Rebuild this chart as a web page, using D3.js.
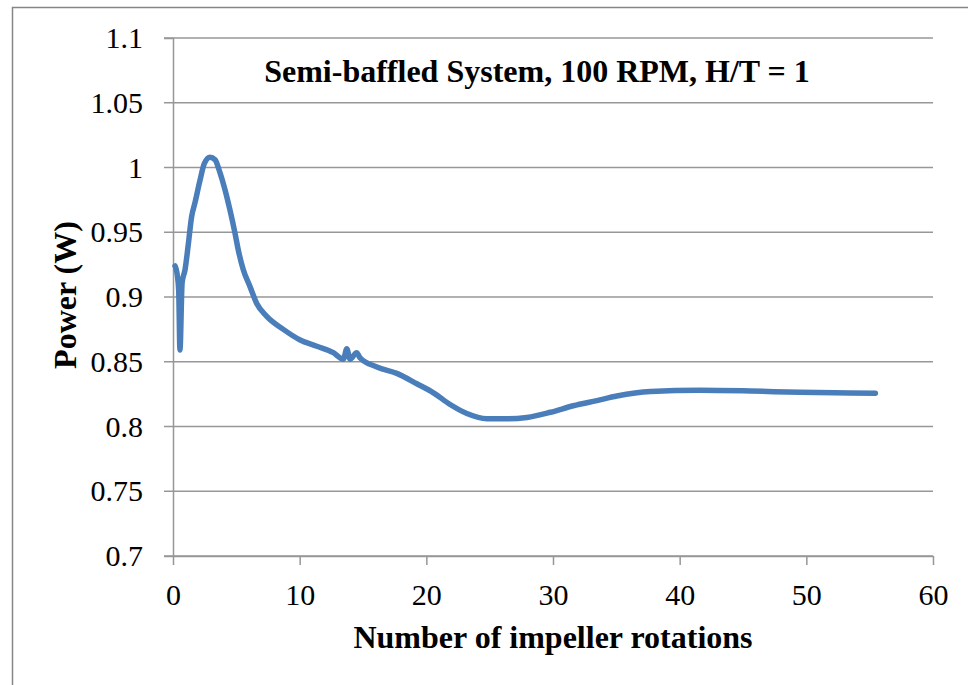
<!DOCTYPE html>
<html>
<head>
<meta charset="utf-8">
<script src="https://cdn.jsdelivr.net/npm/d3@7"></script>
<style>
  body { margin: 0; background: #fff; }
</style>
</head>
<body>
<div id="chart"></div>
<script>
// Power trace
const rotations = [0.16, 0.35, 0.45, 0.55, 0.72, 0.95, 1.2, 1.47, 1.74, 2.13, 2.47, 2.92, 3.32, 3.71, 4.1, 4.5,
  4.9, 5.16, 5.55, 6.08, 6.61, 7.4, 8.71, 10.0, 11.35, 12.66, 13.45, 13.72, 13.98, 14.5, 14.77, 16.1,
  17.67, 19.25, 20.56, 21.88, 23.2, 24.78, 26.36, 27.94, 29.8, 31.6, 33.47, 35.04, 37.7, 41.6, 45.6,
  49.5, 52.2, 55.45];
const power = [0.924, 0.916, 0.905, 0.859, 0.911, 0.921, 0.94, 0.962, 0.973, 0.99, 1.003, 1.008, 1.006, 0.996, 0.983, 0.967,
  0.949, 0.936, 0.921, 0.908, 0.895, 0.885, 0.875, 0.867, 0.862, 0.857, 0.852, 0.860, 0.852, 0.857, 0.853, 0.846,
  0.841, 0.833, 0.826, 0.817, 0.810, 0.806, 0.806, 0.807, 0.811, 0.816, 0.820, 0.8235, 0.827, 0.828, 0.8274,
  0.8264, 0.826, 0.8257];
const xTicks = [0, 10, 20, 30, 40, 50, 60];
const yTicks = [0.7, 0.75, 0.8, 0.85, 0.9, 0.95, 1, 1.05, 1.1];

const width = 968, height = 685;
const margin = {top: 38, right: 35, bottom: 129, left: 173};
const serif = "'Liberation Serif', 'Times New Roman', serif";

const svg = d3.select("#chart").append("svg")
  .attr("width", width)
  .attr("height", height);

// outer chart border
svg.append("rect")
  .attr("x", 12.5).attr("y", 7.5)
  .attr("width", 980).attr("height", 700)
  .attr("fill", "none")
  .attr("stroke", "#868686")
  .attr("stroke-width", 1.5);

const x = d3.scaleLinear().domain([0, 60]).range([margin.left, width - margin.right]);
const y = d3.scaleLinear().domain([0.7, 1.1]).range([height - margin.bottom, margin.top]);

// horizontal gridlines
svg.append("g")
  .selectAll("line")
  .data(yTicks)
  .join("line")
  .attr("x1", x(0) - 9).attr("x2", x(60))
  .attr("y1", d => y(d)).attr("y2", d => y(d))
  .attr("stroke", "#979797")
  .attr("stroke-width", 1.5);

// y axis
const yAxis = svg.append("g")
  .attr("transform", `translate(${x(0)},0)`)
  .call(d3.axisLeft(y).tickValues(yTicks).tickSize(9).tickFormat(d3.format("")));
yAxis.select(".domain").attr("stroke", "#979797").attr("stroke-width", 1.5);
yAxis.selectAll(".tick line").remove();
yAxis.selectAll(".tick text")
  .attr("x", -30)
  .attr("fill", "#000")
  .style("font-size", "30px")
  .style("font-family", serif);

// x axis
const xAxis = svg.append("g")
  .attr("transform", `translate(0,${y(0.7)})`)
  .call(d3.axisBottom(x).tickValues(xTicks).tickSize(9).tickSizeOuter(0));
xAxis.select(".domain").attr("stroke", "#979797").attr("stroke-width", 1.5);
xAxis.selectAll(".tick line").attr("stroke", "#979797").attr("stroke-width", 1.5);
xAxis.selectAll(".tick text")
  .attr("y", 49)
  .attr("dy", 0)
  .attr("fill", "#000")
  .style("font-size", "30px")
  .style("font-family", serif);

// data line
const line = d3.line()
  .x((d, i) => x(rotations[i]))
  .y(d => y(d))
  .curve(d3.curveMonotoneX);

svg.append("path")
  .datum(power)
  .attr("d", line)
  .attr("fill", "none")
  .attr("stroke", "#4a7ebb")
  .attr("stroke-width", 5.5)
  .attr("stroke-linejoin", "round")
  .attr("stroke-linecap", "round");

// title
svg.append("text")
  .attr("x", 537).attr("y", 82)
  .attr("text-anchor", "middle")
  .style("font-family", serif)
  .style("font-size", "32px")
  .style("font-weight", "bold")
  .text("Semi-baffled System, 100 RPM, H/T = 1");

// axis titles
svg.append("text")
  .attr("x", 553).attr("y", 648)
  .attr("text-anchor", "middle")
  .style("font-family", serif)
  .style("font-size", "32px")
  .style("font-weight", "bold")
  .text("Number of impeller rotations");

svg.append("text")
  .attr("transform", "translate(76,295) rotate(-90)")
  .attr("text-anchor", "middle")
  .style("font-family", serif)
  .style("font-size", "32px")
  .style("font-weight", "bold")
  .text("Power (W)");
</script>
</body>
</html>
